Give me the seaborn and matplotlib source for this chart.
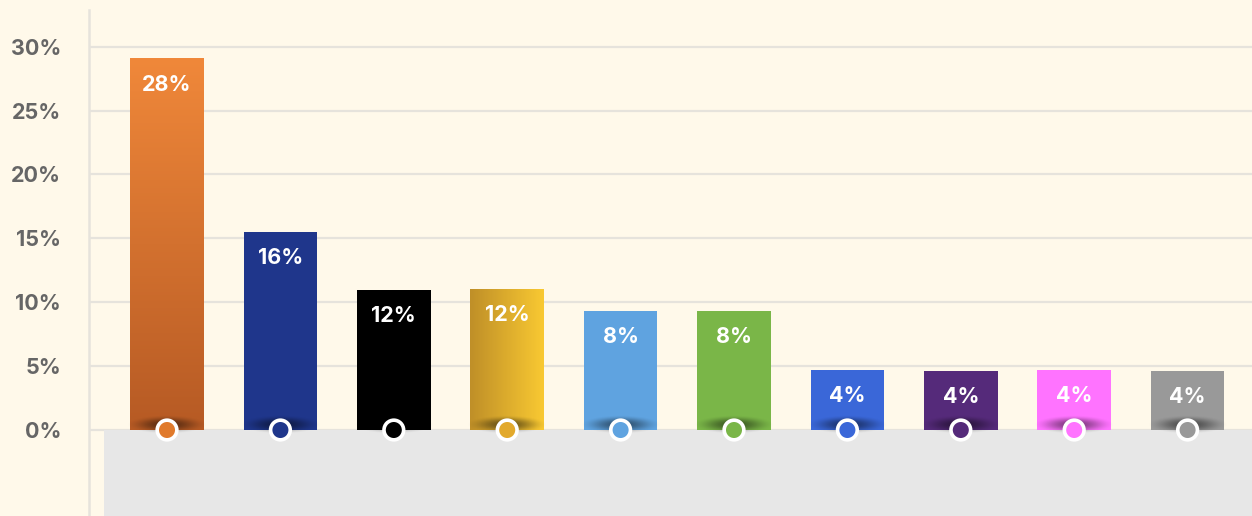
import numpy as np
import pandas as pd
import matplotlib
matplotlib.use("Agg")
import matplotlib.pyplot as plt
import seaborn as sns

# ---- data ----
categories = ["C1", "C2", "C3", "C4", "C5", "C6", "C7", "C8", "C9", "C10"]
values = [29.1, 15.5, 10.96, 11.04, 9.31, 9.31, 4.70, 4.62, 4.70, 4.62]
labels = ["28%", "16%", "12%", "12%", "8%", "8%", "4%", "4%", "4%", "4%"]
bar_colors = ["#D8742E", "#1F368B", "#000000", "#E0A92E", "#5FA3E0",
              "#7AB648", "#3A67D8", "#552A7A", "#FF73FF", "#999999"]
dot_colors = ["#E07A2C", "#1F368B", "#000000", "#E2A92C", "#5FA3E0",
              "#7AB648", "#3A67D8", "#552A7A", "#FF73FF", "#999999"]
yticks = [0, 5, 10, 15, 20, 25, 30]
ytick_labels = ["0%", "5%", "10%", "15%", "20%", "25%", "30%"]

BG = "#FFF9EA"
GRID = "#E6E3DC"
FLOOR = "#E7E7E7"

sns.set_theme(style="white")
plt.rcParams["font.family"] = ["Inter", "DejaVu Sans"]

fig = plt.figure(figsize=(12.52, 5.16), dpi=100, facecolor=BG)
ax = fig.add_axes([89 / 1252, 0, 1163 / 1252, 506 / 516])
ax.set_facecolor(BG)

df = pd.DataFrame({"cat": categories, "val": values})
sns.barplot(data=df, x="cat", y="val", hue="cat", palette=bar_colors,
            legend=False, width=0.65, saturation=1, ax=ax, zorder=3,
            linewidth=0, edgecolor="none")

XL = (-0.688, 9.568)
YL = (-6.73, 32.87)

# floor
ax.axhspan(-10, 0, xmin=15 / 1163, xmax=1, color=FLOOR, zorder=1, lw=0)
# grid
for t in yticks:
    ax.axhline(t, color=GRID, lw=1.6, zorder=0.5)

# gradient fills
bars = [c.patches[0] for c in ax.containers]
grad_specs = {0: ("v", "#F0883A", "#B65A24"), 3: ("h", "#BF8F28", "#F9C932")}
for i, (orient, c1, c2) in grad_specs.items():
    p = bars[i]
    x0, w = p.get_x(), p.get_width()
    h = p.get_height()
    a = np.array(matplotlib.colors.to_rgb(c1))
    b = np.array(matplotlib.colors.to_rgb(c2))
    t = np.linspace(0, 1, 256)
    g = a[None, :] * (1 - t[:, None]) + b[None, :] * t[:, None]
    img = g[:, None, :] if orient == "v" else g[None, :, :]
    im = ax.imshow(img, extent=[x0, x0 + w, 0, h], origin="upper",
                   aspect="auto", zorder=3.1, interpolation="bilinear")
    im.set_clip_path(p)
    p.set_facecolor("none")

# base shadows
yy, xx = np.mgrid[-1:1:120j, -1:1:240j]
for i, p in enumerate(bars):
    cx = p.get_x() + p.get_width() / 2
    r = np.clip(1 - (xx ** 2 + yy ** 2), 0, 1)
    rgba = np.zeros((120, 240, 4))
    rgba[..., 3] = 0.5 * r ** 2
    ax.imshow(rgba, extent=[cx - 0.36, cx + 0.36, -0.3, 1.15], origin="lower",
              aspect="auto", zorder=3.5, interpolation="bilinear")

ax.set_xlim(*XL)
ax.set_ylim(*YL)

# circles at base
sns.scatterplot(x=np.arange(len(categories)), y=[0] * len(categories),
                hue=categories, palette=dot_colors, legend=False, s=200,
                edgecolor="white", linewidth=2.6, ax=ax, zorder=5, clip_on=False)

# value labels
for i, p in enumerate(bars):
    cx = p.get_x() + p.get_width() / 2
    ax.annotate(labels[i], (cx, values[i]), xytext=(0, -19),
                textcoords="offset points", ha="center", va="center",
                color="white", fontsize=15.5, fontweight="bold", zorder=6)

ax.set_yticks(yticks)
ax.set_yticklabels(ytick_labels, fontsize=15.5, fontweight="bold", color="#666666")
ax.tick_params(axis="y", length=0, pad=20)
ax.set_xticks([])
ax.set_xlabel("")
ax.set_ylabel("")
for s in ["top", "right", "bottom"]:
    ax.spines[s].set_visible(False)
ax.spines["left"].set_color(GRID)
ax.spines["left"].set_linewidth(1.8)

fig.savefig("out.png", dpi=100, facecolor=BG)
